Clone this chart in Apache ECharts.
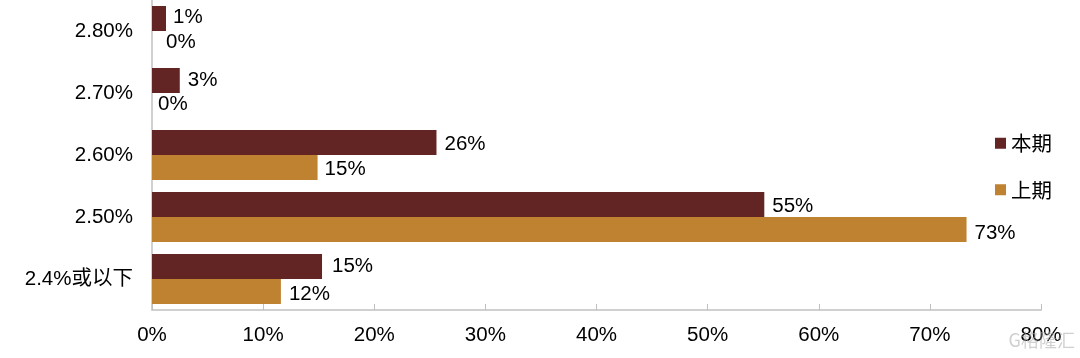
<!DOCTYPE html>
<html><head><meta charset="utf-8">
<style>html,body{margin:0;padding:0;background:#fff}#c{width:1080px;height:358px}</style>
<script src="https://cdn.jsdelivr.net/npm/echarts@6/dist/echarts.min.js"></script>
</head><body><div id="c"></div>
<script>
const categories = ['2.4%或以下','2.50%','2.60%','2.70%','2.80%'];
const currentValues = [15.3,55.1,25.6,2.5,1.26];
const previousValues = [11.6,73.3,14.9,0,0];
const currentLabels = ['15%','55%','26%','3%','1%'];
const previousLabels = ['12%','73%','15%','0%','0%'];
const xTicks = ['0%','10%','20%','30%','40%','50%','60%','70%','80%'];
const font = '"Liberation Sans", Arial, sans-serif';
const currentNudge = [[0,0],[-2,2],[-2,2],[-2,0],[-3,-1]];
const previousNudge = [[-2,3],[-2,4],[-3,2],[0,-1],[0,-1]];
const chart = echarts.init(document.getElementById('c'));
function lab(arr){return {show:true,position:'right',distance:10,color:'#000',fontSize:20.5,fontFamily:font,formatter:p=>arr[p.dataIndex]};}
const prevData = previousValues.map((v,i)=>({value:v,label:{distance:i===4?14:i===3?6:10,offset:previousNudge[i]}}));
const curData = currentValues.map((v,i)=>({value:v,label:{offset:currentNudge[i]}}));
chart.setOption({
  animation:false,
  backgroundColor:'#fff',
  grid:{left:152,right:39,top:0,bottom:48},
  legend:{right:23,top:128,orient:'vertical',itemWidth:11,itemHeight:11,itemGap:26,icon:'rect',
    textStyle:{fontSize:20.5,color:'#000',fontFamily:'"Noto Sans CJK SC",'+font},
    data:['本期','上期']},
  xAxis:{type:'value',min:0,max:80,interval:10,
    axisLine:{show:true,lineStyle:{color:'#d0d0d0',width:2}},
    axisTick:{show:true,inside:true,length:6,lineStyle:{color:'#bfbfbf'}},
    splitLine:{show:false},
    axisLabel:{color:'#000',fontSize:20.5,fontFamily:font,margin:15,showMaxLabel:true,
      formatter:(v)=>xTicks[v/10],hideOverlap:false}},
  yAxis:{type:'category',data:categories,
    axisLine:{show:true,lineStyle:{color:'#d0d0d0',width:2}},
    axisTick:{show:false},
    axisLabel:{color:'#000',fontSize:20.5,fontFamily:'"Liberation Sans","Noto Sans CJK SC",sans-serif',margin:19}},
  series:[
    {name:'本期',type:'bar',data:curData,barWidth:25,barGap:'0%',itemStyle:{color:'#632424'},label:lab(currentLabels)},
    {name:'上期',type:'bar',data:prevData,barWidth:25,barGap:'0%',itemStyle:{color:'#BE8230'},label:lab(previousLabels)}
  ],
  graphic:[{type:'text',right:5,top:331,silent:true,z:100,style:{text:'G格隆汇',fill:'rgba(170,170,170,0.55)',fontSize:18,fontFamily:'"Noto Sans CJK SC",sans-serif'}}]
});
</script></body></html>
